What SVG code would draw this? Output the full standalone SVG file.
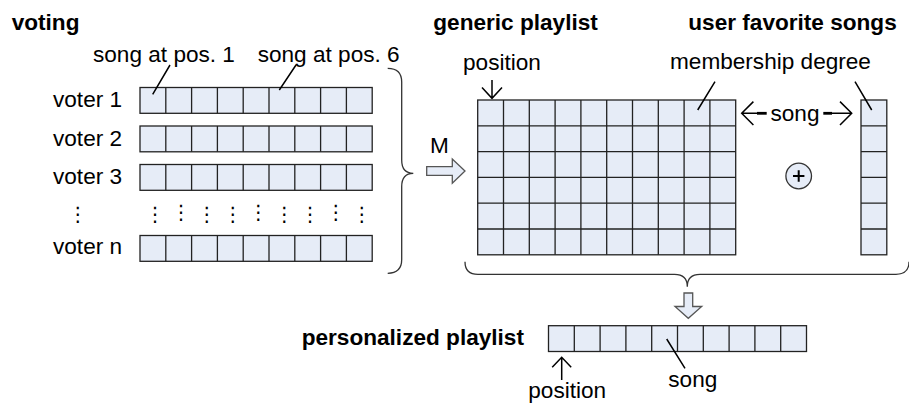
<svg xmlns="http://www.w3.org/2000/svg" width="909" height="403" viewBox="0 0 909 403">
<style>
.t{font-family:"Liberation Sans",Arial,sans-serif;font-size:22.6px;fill:#000}
.b{font-weight:bold}
.cell{fill:#E6ECF7;stroke:#222;stroke-width:1.3}
.grid{fill:none;stroke:#222;stroke-width:1.3}
.ln{fill:none;stroke:#000;stroke-width:1.5}
.thick{fill:none;stroke:#000;stroke-width:2.8}
.brace{fill:none;stroke:#333;stroke-width:1.3}
.blk{fill:#E6ECF7;stroke:#555;stroke-width:1.3}
.dots{font-family:"DejaVu Sans",sans-serif;font-size:20px;fill:#000;text-anchor:middle}
</style>
<g id="titles">
<text class="t b" x="11.7" y="29.5">voting</text>
<text class="t b" x="433.3" y="30">generic playlist</text>
<text class="t b" x="688.3" y="30">user favorite songs</text>
</g>
<g id="voter1">
<text class="t" x="53" y="107.3">voter 1</text>
<rect class="cell" x="140" y="87.5" width="232.2" height="25.8"/>
<path class="grid" d="M165.8 87.5v25.8m25.8-25.8v25.8m25.8-25.8v25.8m25.8-25.8v25.8m25.8-25.8v25.8m25.8-25.8v25.8m25.8-25.8v25.8m25.8-25.8v25.8"/>
</g>
<g id="voter2">
<text class="t" x="53" y="145.8">voter 2</text>
<rect class="cell" x="140" y="126" width="232.2" height="25.8"/>
<path class="grid" d="M165.8 126v25.8m25.8-25.8v25.8m25.8-25.8v25.8m25.8-25.8v25.8m25.8-25.8v25.8m25.8-25.8v25.8m25.8-25.8v25.8m25.8-25.8v25.8"/>
</g>
<g id="voter3">
<text class="t" x="53" y="184.3">voter 3</text>
<rect class="cell" x="140" y="164.5" width="232.2" height="25.8"/>
<path class="grid" d="M165.8 164.5v25.8m25.8-25.8v25.8m25.8-25.8v25.8m25.8-25.8v25.8m25.8-25.8v25.8m25.8-25.8v25.8m25.8-25.8v25.8m25.8-25.8v25.8"/>
</g>
<g id="ellipsis">
<text class="dots" x="77.7" y="221">⋮</text>
<text class="dots" x="155" y="221">⋮</text>
<text class="dots" x="181" y="219">⋮</text>
<text class="dots" x="206.7" y="221">⋮</text>
<text class="dots" x="232.7" y="221">⋮</text>
<text class="dots" x="258.3" y="219">⋮</text>
<text class="dots" x="284.3" y="221">⋮</text>
<text class="dots" x="310" y="221">⋮</text>
<text class="dots" x="335.7" y="219">⋮</text>
<text class="dots" x="361.7" y="221">⋮</text>
</g>
<g id="votern">
<text class="t" x="53" y="254.3">voter n</text>
<rect class="cell" x="140" y="235.5" width="232.2" height="25.8"/>
<path class="grid" d="M165.8 235.5v25.8m25.8-25.8v25.8m25.8-25.8v25.8m25.8-25.8v25.8m25.8-25.8v25.8m25.8-25.8v25.8m25.8-25.8v25.8m25.8-25.8v25.8"/>
</g>
<g id="song-labels">
<text class="t" x="93" y="62">song at pos. 1</text>
<text class="t" x="257.7" y="62">song at pos. 6</text>
</g>
<g id="generic-playlist">
<rect class="cell" x="477.7" y="100" width="258" height="154.8"/>
<path class="grid" d="M503.5 100v154.8m25.8-154.8v154.8m25.8-154.8v154.8m25.8-154.8v154.8m25.8-154.8v154.8m25.8-154.8v154.8m25.8-154.8v154.8m25.8-154.8v154.8m25.8-154.8v154.8M477.7 125.8h258m-258 25.8h258m-258 25.8h258m-258 25.8h258m-258 25.8h258"/>
<text class="t" x="463" y="69.5">position</text>
<text class="t" x="670" y="69">membership degree</text>
</g>
<g id="favorites">
<rect class="cell" x="861" y="100" width="25.8" height="154.8"/>
<path class="grid" d="M861 125.8h25.8m-25.8 25.8h25.8m-25.8 25.8h25.8m-25.8 25.8h25.8m-25.8 25.8h25.8"/>
</g>
<g id="combine">
<circle class="cell" cx="798.7" cy="176" r="12.8" style="stroke:#333"/>
<path d="M793 176h11.4M798.7 170.3v11.4" stroke="#000" stroke-width="2" fill="none"/>
</g>
<g id="personalized-playlist">
<text class="t b" x="301.7" y="345">personalized playlist</text>
<rect class="cell" x="548.5" y="325.7" width="258" height="25.8"/>
<path class="grid" d="M574.3 325.7v25.8m25.8-25.8v25.8m25.8-25.8v25.8m25.8-25.8v25.8m25.8-25.8v25.8m25.8-25.8v25.8m25.8-25.8v25.8m25.8-25.8v25.8m25.8-25.8v25.8"/>
<text class="t" x="528.3" y="398">position</text>
<text class="t" x="668.3" y="386.7">song</text>
</g>
<g id="connectors">
<path class="ln" d="M170 65L152.7 94.3M296 65L279.3 90M715 81.7L697.7 110M855 81.7L871.7 110M666.7 339L685 368.3"/>
<path class="ln" d="M492 80V98.3M482 87.5L492 98.3L502 87.5"/>
<path class="ln" d="M741.7 113.3H758M753.4 101.6L741.7 113.3L753.4 125"/>
<path class="thick" d="M757 113.3H766.7"/>
<path class="thick" d="M823.3 113.3H832"/>
<path class="ln" d="M831 113.3H851.7M840 101.6L851.7 113.3L840 125"/>
<text class="t" x="795" y="120.5" text-anchor="middle">song</text>
<path class="ln" d="M561.7 380V357.3M552.2 367.3L561.7 357.3L571.2 367.3"/>
<path class="brace" d="M387.7 68.3Q401.7 68.3 401.7 82V160Q401.7 173.3 413.3 173.3Q401.7 173.3 401.7 186.6V259.6Q401.7 273.3 387.7 273.3"/>
<path class="brace" d="M465 261.7Q465 274.3 478 274.3H674.5Q687.3 274.3 687.3 286.7Q687.3 274.3 700 274.3H896Q909 274.3 909 261.7"/>
<path class="blk" d="M426.7 166.7H452.3V159L465 171L452.3 183.3V175.3H426.7Z"/>
<text class="t" x="430" y="153">M</text>
<path class="blk" d="M684 293H692.7V306.5H701.7L688.3 318.3L675 306.5H684Z"/>
</g>
</svg>
